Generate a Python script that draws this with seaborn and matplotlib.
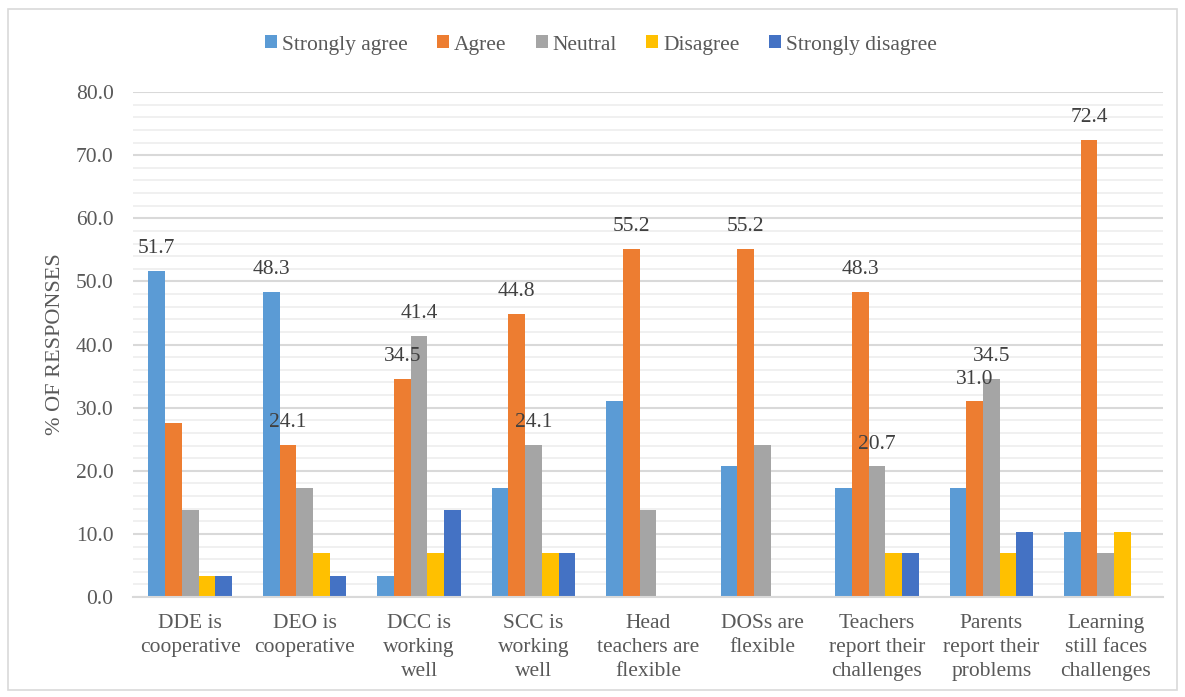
import matplotlib
matplotlib.use("Agg")
import matplotlib.pyplot as plt
import seaborn as sns
import pandas as pd
import numpy as np
from matplotlib.patches import Rectangle
from matplotlib.ticker import MultipleLocator

categories = [
    "DDE is\ncooperative", "DEO is\ncooperative", "DCC is\nworking\nwell",
    "SCC is\nworking\nwell", "Head\nteachers are\nflexible", "DOSs are\nflexible",
    "Teachers\nreport their\nchallenges", "Parents\nreport their\nproblems",
    "Learning\nstill faces\nchallenges",
]
series = ["Strongly agree", "Agree", "Neutral", "Disagree", "Strongly disagree"]
strongly_agree = [51.7, 48.3, 3.4, 17.2, 31.0, 20.7, 17.2, 17.2, 10.3]
agree = [27.6, 24.1, 34.5, 44.8, 55.2, 55.2, 48.3, 31.0, 72.4]
neutral = [13.8, 17.2, 41.4, 24.1, 13.8, 24.1, 20.7, 34.5, 6.9]
disagree = [3.4, 6.9, 6.9, 6.9, 0.0, 0.0, 6.9, 6.9, 10.3]
strongly_disagree = [3.4, 3.4, 13.8, 6.9, 0.0, 0.0, 6.9, 10.3, 0.0]
# (category index, series index) of bars that carry a data label
labelled = [(0, 0), (1, 0), (1, 1), (2, 1), (2, 2), (3, 1), (3, 2), (4, 1),
            (5, 1), (6, 1), (6, 2), (7, 1), (7, 2), (8, 1)]
colors = ["#5B9BD5", "#ED7D31", "#A5A5A5", "#FFC000", "#4472C4"]

values = [strongly_agree, agree, neutral, disagree, strongly_disagree]
rows = []
for s, vals in zip(series, values):
    for c, v in zip(categories, vals):
        rows.append({"cat": c, "series": s, "value": v})
df = pd.DataFrame(rows)

sns.set_theme(style="white")
plt.rcParams["font.family"] = ["Liberation Serif", "DejaVu Serif"]
TXT = "#595959"
FS = 15.5

fig = plt.figure(figsize=(11.85, 6.97), dpi=100)
ax = fig.add_axes([133 / 1185, 1 - 597 / 697, 1030 / 1185, 505 / 697])

sns.barplot(data=df, x="cat", y="value", hue="series", order=categories,
            hue_order=series, palette=colors, width=0.73, gap=0,
            saturation=1, ax=ax, legend=True, edgecolor="none")

ax.set_ylim(0, 80)
ax.set_xlim(-0.5, len(categories) - 0.5)
ax.yaxis.set_major_locator(MultipleLocator(10))
ax.yaxis.set_minor_locator(MultipleLocator(2))
ax.grid(axis="y", which="minor", color="#efefef", lw=1.3, zorder=0)
ax.grid(axis="y", which="major", color="#d9d9d9", lw=1.5, zorder=0)
ax.set_axisbelow(True)
for sp in ["top", "right", "left"]:
    ax.spines[sp].set_visible(False)
ax.spines["bottom"].set_color("#d9d9d9")
ax.spines["bottom"].set_linewidth(1.5)
ax.yaxis.set_major_formatter(matplotlib.ticker.FormatStrFormatter("%.1f"))
ax.tick_params(axis="y", which="both", length=0, pad=14, labelsize=FS, labelcolor=TXT)
ax.tick_params(axis="x", length=0, pad=12, labelsize=FS, labelcolor=TXT)
for t in ax.get_xticklabels():
    t.set_linespacing(1.38)
    t.set_verticalalignment("top")
ax.set_xlabel("")
ax.set_ylabel("% OF RESPONSES", fontsize=16, color=TXT, labelpad=8)

# data labels
containers = ax.containers
for ci, si in labelled:
    bar = containers[si][ci]
    x = bar.get_x() + bar.get_width() / 2
    h = bar.get_height()
    ax.annotate(f"{values[si][ci]:.1f}", (x, h), xytext=(0, 16),
                textcoords="offset points", ha="center", va="center",
                fontsize=FS, color="#404040")

leg = ax.legend(loc="center", bbox_to_anchor=(601 / 1185, 1 - 45 / 697),
                bbox_transform=fig.transFigure, ncol=5, frameon=False,
                fontsize=FS, handlelength=0.55, handleheight=0.55,
                handletextpad=0.25, columnspacing=1.35)
for t in leg.get_texts():
    t.set_color(TXT)

fig.patches.append(Rectangle((8 / 1185, 1 - 690 / 697), 1169 / 1185, 681 / 697,
                             transform=fig.transFigure, fill=False,
                             edgecolor="#d9d9d9", lw=1.2))

fig.savefig("out.png", dpi=100)
